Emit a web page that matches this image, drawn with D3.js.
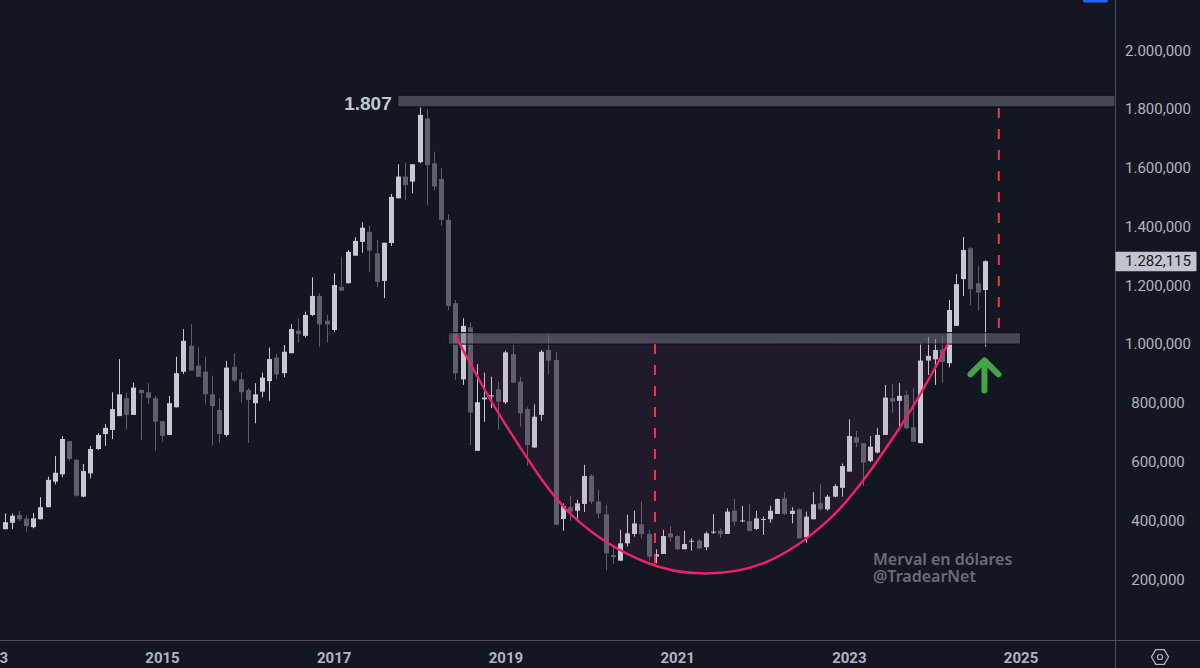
<html>
<head>
<meta charset="utf-8">
<style>
  body { margin: 0; background: #131722; }
  svg { display: block; }
  .axis text { font-family: Roboto, "Noto Sans", sans-serif; }
</style>
</head>
<body>
<svg id="chart" width="1200" height="668"></svg>
<script src="https://cdn.jsdelivr.net/npm/d3@7"></script>
<script>
// monthly candles, values in thousands of "dólares" (as shown on the chart)
const firstMonth = "2013-03"
const open = [370,392,418,406,377,404,445,532,557,670,606,481,560,643,694,708,755,816,759,844,836,816,738,691,785,906,994,927,906,829,776,691,923,880,844,799,838,874,954,901,969,1046,1028,1099,1164,1080,1048,1195,1207,1301,1348,1382,1309,1215,1344,1496,1570,1553,1619,1768,1615,1562,1423,1139,880,1057,637,812,822,846,802,966,872,779,648,759,980,946,405,445,433,456,552,464,421,282,263,322,354,387,354,277,286,356,347,302,328,331,309,360,365,354,433,397,398,371,404,404,422,475,422,438,343,404,458,438,481,511,566,683,663,602,631,691,816,807,827,717,663,944,948,982,935,1062,1221,1326,1207,1184]
const high = [424,424,432,418,425,479,549,619,687,670,609,592,654,697,728,836,949,835,869,844,867,824,738,824,957,1051,1068,989,957,893,816,943,969,903,850,867,903,988,966,997,1068,1088,1110,1227,1173,1099,1241,1297,1320,1364,1415,1402,1354,1345,1511,1612,1617,1612,1807,1799,1655,1600,1442,1150,1088,1073,932,903,889,872,978,1005,889,785,795,980,1031,974,458,484,470,589,558,504,453,309,368,419,433,464,368,302,368,381,351,365,339,337,362,421,373,441,473,449,455,432,413,450,475,496,445,441,430,496,523,487,523,594,744,704,663,687,714,861,864,867,840,850,1003,1024,1017,1028,1150,1238,1365,1330,1267,1285]
const low = [370,371,398,362,373,404,445,523,547,603,481,479,543,640,654,677,755,711,759,674,796,637,668,691,785,898,910,889,795,654,665,685,870,801,663,731,819,807,880,887,969,1005,1022,1096,991,1005,1042,1182,1207,1301,1311,1244,1195,1156,1334,1496,1490,1513,1615,1473,1524,1403,1116,878,861,657,637,736,782,708,796,867,719,586,648,739,897,385,365,399,396,429,456,407,231,252,263,311,345,339,263,254,286,328,299,302,297,302,299,354,341,354,382,394,364,368,351,392,422,419,390,339,324,404,433,433,479,481,566,649,517,598,628,691,767,719,710,668,663,895,861,869,921,1062,1164,1133,1114,991]
const close = [394,416,404,381,407,445,538,562,677,609,484,568,643,691,715,779,829,759,852,833,817,736,688,799,901,1011,910,889,829,789,694,920,876,836,810,829,886,949,897,974,1051,1034,1099,1164,1067,1067,1201,1182,1314,1351,1396,1318,1212,1345,1501,1570,1541,1612,1780,1609,1536,1423,1130,901,1062,767,802,818,826,804,972,869,765,657,753,974,944,385,449,430,458,551,464,424,288,275,322,356,390,354,277,285,347,343,302,320,331,305,356,362,354,430,396,400,364,407,405,433,473,422,433,339,413,455,438,481,517,585,687,665,597,651,691,818,804,824,714,668,944,960,980,939,1116,1204,1320,1187,1175,1282.115]

// axes
const yTicks = [200, 400, 600, 800, 1000, 1200, 1400, 1600, 1800, 2000]
const yTickLabels = ["200,000", "400,000", "600,000", "800,000", "1.000,000", "1.200,000", "1.400,000", "1.600,000", "1.800,000", "2.000,000"]
const yearTicks = [0, 24, 48, 72, 96, 120, 144]   // months since Jan 2013
const yearLabels = ["2013", "2015", "2017", "2019", "2021", "2023", "2025"]

// annotations (month index, value)
const cupCurve = [[64.96,1031],[72.2,719],[81.5,413],[91.8,256],[99.2,220],[108.0,254],[117.4,407],[127.2,719],[133.9,1003]]
const athLevel = [1807, 1847]
const athStart = 56.95
const neckLevel = [1000, 1039]
const neckRange = [64.0, 144.0]
const depthLine = { m: 92.9, from: 1000, to: 254 }
const targetLine = { m: 140.96, from: 1803, to: 1038 }
const arrowAt = { m: 138.95, v: 948 }
const lastPrice = 1282.115
const lastPriceLabel = "1.282,115"

const svg = d3.select("#chart")
const W = 1200, H = 668, plotRight = 1115, axisY = 640.5

svg.append("rect").attr("width", W).attr("height", H).attr("fill", "#131722")

const x = d3.scaleLinear().domain([1.356, 157.2]).range([0, plotRight])
const y = d3.scaleLinear().domain([0, 2000]).range([638, 50.2])

const parse = d3.timeParse("%Y-%m")
const d0 = parse(firstMonth)
const m0 = (d0.getFullYear() - 2013) * 12 + d0.getMonth()
const candles = open.map((o, i) => ({ m: m0 + i, o: o, h: high[i], l: low[i], c: close[i] }))

const plot = svg.append("g")
const bw = 5

const cg = plot.selectAll("g.candle")
  .data(candles)
  .enter()
  .append("g")
  .attr("class", "candle")
  .attr("fill", d => d.c >= d.o ? "#c9cad1" : "#5d606b")
  .attr("stroke", d => d.c >= d.o ? "#c9cad1" : "#5d606b")

cg.append("line")
  .attr("x1", d => Math.round(x(d.m)) + 0.5)
  .attr("x2", d => Math.round(x(d.m)) + 0.5)
  .attr("y1", d => y(d.h))
  .attr("y2", d => y(d.l))
  .attr("stroke-width", 1)

cg.append("rect")
  .attr("x", d => Math.round(x(d.m)) + 0.5 - bw / 2)
  .attr("width", bw)
  .attr("y", d => y(Math.max(d.o, d.c)))
  .attr("height", d => Math.max(1, y(Math.min(d.o, d.c)) - y(Math.max(d.o, d.c))))
  .attr("stroke", "none")

// cup fill + curve
const line = d3.line().x(d => x(d[0])).y(d => y(d[1])).curve(d3.curveCatmullRom.alpha(0.5))
plot.append("path")
  .attr("d", line(cupCurve) + "Z")
  .attr("fill", "rgba(200, 70, 150, 0.075)")

// price boxes
plot.append("rect")
  .attr("x", x(athStart)).attr("width", plotRight - x(athStart))
  .attr("y", y(athLevel[1])).attr("height", y(athLevel[0]) - y(athLevel[1]))
  .attr("fill", "rgba(110, 113, 124, 0.55)").attr("stroke", "#0b0d13").attr("stroke-width", 1)

plot.append("rect")
  .attr("x", x(neckRange[0])).attr("width", x(neckRange[1]) - x(neckRange[0]))
  .attr("y", y(neckLevel[1])).attr("height", y(neckLevel[0]) - y(neckLevel[1]))
  .attr("fill", "rgba(110, 113, 124, 0.55)").attr("stroke", "#0b0d13").attr("stroke-width", 1)

plot.append("path")
  .attr("d", line(cupCurve))
  .attr("fill", "none")
  .attr("stroke", "#ec2266")
  .attr("stroke-width", 2.5)

// dashed measuring lines
;[depthLine, targetLine].forEach(l => {
  plot.append("line")
    .attr("x1", x(l.m)).attr("x2", x(l.m))
    .attr("y1", y(l.from)).attr("y2", y(l.to))
    .attr("stroke", "#f23645").attr("stroke-width", 2)
    .attr("stroke-dasharray", "10,11")
})

// green arrow
const ax = x(arrowAt.m), ay = y(arrowAt.v)
plot.append("path")
  .attr("d", `M${ax},${ay + 31} L${ax},${ay + 2} M${ax - 14},${ay + 15} L${ax},${ay + 1} L${ax + 14},${ay + 15}`)
  .attr("fill", "none").attr("stroke", "#43a547").attr("stroke-width", 6)
  .attr("stroke-linecap", "round").attr("stroke-linejoin", "round")

// ATH label
plot.append("text")
  .attr("x", x(athStart) - 6).attr("y", y(athLevel[0]) + 3.5)
  .attr("text-anchor", "end")
  .attr("font-family", "'Liberation Sans', Arial, sans-serif")
  .attr("font-weight", "bold").attr("font-size", 19)
  .attr("fill", "#c3c6ce")
  .text("1.807")

// watermark
plot.append("text")
  .attr("x", 873).attr("y", 565)
  .attr("font-family", "'Noto Sans', sans-serif")
  .attr("font-weight", 600).attr("font-size", 16)
  .attr("fill", "#6b6e79")
  .text("Merval en dólares")
plot.append("text")
  .attr("x", 873).attr("y", 582)
  .attr("font-family", "'Noto Sans', sans-serif")
  .attr("font-weight", 600).attr("font-size", 16)
  .attr("fill", "#6b6e79")
  .text("@TradearNet")

// axis frame
svg.append("line").attr("x1", 0).attr("x2", W).attr("y1", axisY).attr("y2", axisY)
  .attr("stroke", "#4b4e58").attr("stroke-width", 1)
svg.append("line").attr("x1", plotRight + 0.5).attr("x2", plotRight + 0.5).attr("y1", 0).attr("y2", H)
  .attr("stroke", "#4b4e58").attr("stroke-width", 1)

// y axis
const yAxis = svg.append("g").attr("class", "axis")
  .attr("transform", `translate(${plotRight},0)`)
  .call(d3.axisRight(y).tickValues(yTicks).tickFormat((d, i) => yTickLabels[i]).tickSize(0))
yAxis.select(".domain").remove()
yAxis.selectAll("text")
  .attr("x", 43).attr("text-anchor", "middle")
  .attr("font-size", 15).attr("fill", "#b2b5be")

// last price tag
svg.append("rect")
  .attr("x", plotRight + 0.5).attr("width", 81)
  .attr("y", y(lastPrice) - 9.5).attr("height", 19.5)
  .attr("fill", "#c3c5cc").attr("rx", 1)
svg.append("text")
  .attr("x", plotRight + 43).attr("y", y(lastPrice)).attr("dy", "0.34em")
  .attr("text-anchor", "middle")
  .attr("font-family", "Roboto, sans-serif").attr("font-size", 15)
  .attr("fill", "#131722")
  .text(lastPriceLabel)

// x axis
const xAxis = svg.append("g").attr("class", "axis")
  .attr("transform", `translate(0,${axisY})`)
  .call(d3.axisBottom(x).tickValues(yearTicks).tickFormat((d, i) => yearLabels[i]).tickSize(0).tickPadding(12))
xAxis.select(".domain").remove()
xAxis.selectAll("text")
  .attr("font-size", 15).attr("font-weight", "bold").attr("fill", "#b2b5be")

// corner widgets
svg.append("rect").attr("x", 1083).attr("y", -4).attr("width", 25).attr("height", 6.5)
  .attr("rx", 2).attr("fill", "#2962ff")
const hx = 1160, hy = 657, hr = 8.5
const hex = d3.range(6).map(k => [hx + hr * Math.cos(k * Math.PI / 3), hy + hr * Math.sin(k * Math.PI / 3)])
svg.append("path").attr("d", "M" + hex.join("L") + "Z")
  .attr("fill", "none").attr("stroke", "#b2b5be").attr("stroke-width", 1.3)
svg.append("circle").attr("cx", hx).attr("cy", hy).attr("r", 2.5)
  .attr("fill", "none").attr("stroke", "#b2b5be").attr("stroke-width", 1.2)
</script>
</body>
</html>
